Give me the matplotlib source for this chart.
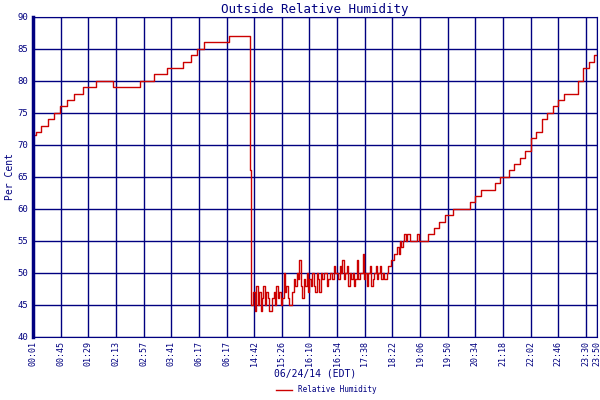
import matplotlib.pyplot as plt
import numpy as np

tick_labels = ["00:01", "00:45", "01:29", "02:13", "02:57", "03:41", "06:17", "06:17",
               "14:42", "15:26", "16:10", "16:54", "17:38", "18:22", "19:06", "19:50",
               "20:34", "21:18", "22:02", "22:46", "23:30", "23:50"]
tick_pos = list(range(21)) + [20.4]

# morning staircase (x in tick units, value)
step_x = [0.0, 0.1, 0.3, 0.55, 0.75, 0.98, 1.22, 1.48, 1.81, 2.28, 2.88, 3.87, 4.38,
          4.83, 5.42, 5.7, 5.92, 6.18, 7.09, 7.84, 7.88]
step_y = [71.5, 72, 73, 74, 75, 76, 77, 78, 79, 80, 79, 80, 81,
          82, 83, 84, 85, 86, 87, 66, 45]

# afternoon noisy readings, evenly spaced from x=7.92 to x=14.0
noisy_y = [45, 47, 44, 48, 45, 47, 44, 46, 48, 45, 47, 46, 44, 44, 46, 47, 45, 48, 46, 47,
           45, 46, 50, 47, 48, 46, 45, 45, 47, 49, 48, 50, 49, 52, 48, 46, 49, 48, 50, 47,
           49, 48, 50, 48, 47, 50, 49, 47, 50, 49, 50, 50, 48, 49, 50, 50, 49, 51, 50, 50,
           49, 51, 50, 52, 49, 50, 51, 48, 50, 49, 50, 48, 49, 52, 49, 50, 50, 53, 49, 50,
           48, 50, 51, 48, 49, 50, 51, 49, 50, 51, 49, 50, 49, 49, 50, 51, 51, 52, 52, 53,
           53, 54, 53, 55, 54, 55, 56, 55, 56, 56, 55, 55, 55, 55, 55, 56, 55, 55]

# evening rise (x in tick units, value)
rise_x = [14.0, 14.3, 14.5, 14.7, 14.9, 15.0, 15.2, 15.4, 15.6, 15.8, 16.0, 16.2, 16.4,
          16.7, 16.9, 17.0, 17.2, 17.4, 17.6, 17.8, 18.0, 18.2, 18.4, 18.6, 18.8, 19.0,
          19.2, 19.35, 19.5, 19.7, 19.9, 20.1, 20.3, 20.4]
rise_y = [55, 56, 57, 58, 59, 59, 60, 60, 60, 61, 62, 63, 63,
          64, 65, 65, 66, 67, 68, 69, 71, 72, 74, 75, 76, 77,
          78, 78, 78, 80, 82, 83, 84, 84]

noisy_x = np.linspace(7.92, 14.0, len(noisy_y))
xs = np.concatenate([step_x, noisy_x, rise_x])
ys = np.concatenate([step_y, noisy_y, rise_y])

navy = "#000080"
plt.rcParams["font.family"] = "DejaVu Sans Mono"
fig = plt.figure(figsize=(6, 4), dpi=100)
ax = fig.add_axes([0.055, 0.158, 0.94, 0.8])
ax.plot(xs, ys, color="#cc0000", lw=1, drawstyle="steps-post", label="Relative Humidity")
ax.set_xlim(0, 20.4)
ax.set_ylim(40, 90)
ax.set_yticks(range(40, 91, 5))
ax.set_xticks(tick_pos)
ax.set_xticklabels(tick_labels, rotation=90, fontsize=6, color=navy)
ax.tick_params(axis="y", labelsize=6.5, colors=navy, length=0)
ax.tick_params(axis="x", length=0, pad=3)
ax.grid(color=navy, lw=1)
for s in ax.spines.values():
    s.set_color(navy)
ax.spines["left"].set_linewidth(2.5)
ax.set_title("Outside Relative Humidity", color=navy, fontsize=9, pad=3)
ax.set_xlabel("06/24/14 (EDT)", color=navy, fontsize=7, labelpad=2)
ax.set_ylabel("Per Cent", color=navy, fontsize=7, labelpad=2)
ax.legend(loc="upper center", bbox_to_anchor=(0.52, -0.13), frameon=False, fontsize=5.5,
          handlelength=2, labelcolor=navy)
fig.savefig("out.png")
